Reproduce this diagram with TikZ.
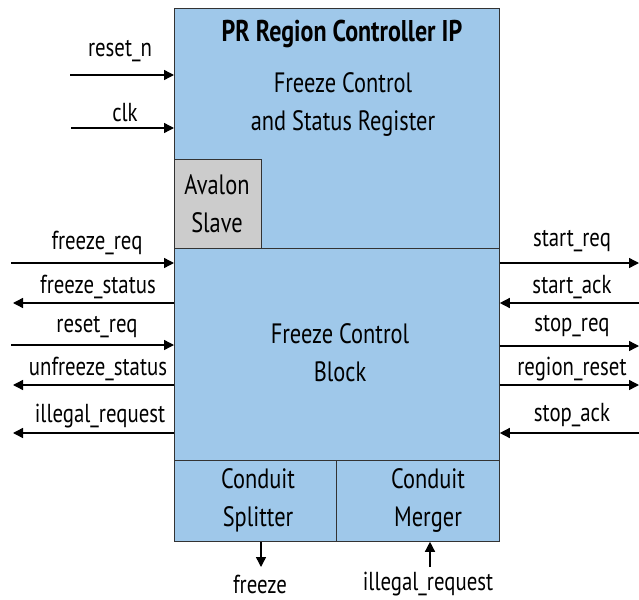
\documentclass[tikz,border=0pt]{standalone}
\usepackage{fontspec}
\setmainfont[FakeStretch=0.8]{PT Sans}
\usetikzlibrary{arrows.meta}
\definecolor{blk}{HTML}{9FC8EA}
\definecolor{avg}{HTML}{CCCCCC}
\definecolor{edge}{HTML}{333333}
\tikzset{
  x=1pt, y=-1pt,
  box/.style={draw=edge, line width=0.8pt, fill=blk, inner sep=0pt, anchor=north west},
  sig/.style={line width=1.4pt, -{Triangle[length=10pt,width=10pt]}},
  lbl/.style={font=\fontsize{26}{28}\selectfont, inner sep=0pt},
  big/.style={font=\fontsize{28}{38}\selectfont, align=center, inner sep=0pt},
}
\begin{document}
\begin{tikzpicture}
\useasboundingbox (0,0) rectangle (639,599);
% boxes
\node[box, minimum width=325pt, minimum height=533pt] (main) at (174,8) {};
\node[box, fill=avg, minimum width=87pt, minimum height=89pt] (aval) at (174,159) {};
\node[box, minimum width=325pt, minimum height=212pt] (fcb) at (174,248) {};
\node[box, minimum width=162pt, minimum height=81pt] (spl) at (174,460) {};
\node[box, minimum width=163pt, minimum height=81pt] (mer) at (336,460) {};
% texts
\node[big, font=\fontsize{30}{32}\selectfont\bfseries] (title) at (342,34) {PR Region Controller IP};
\node[big] (reg) at (343,105) {Freeze Control\\and Status Register};
\node[big] (avt) at (217,204) {Avalon\\Slave};
\node[big] (fct) at (340,353) {Freeze Control\\Block};
\node[big] (spt) at (258,500) {Conduit\\Splitter};
\node[big] (mrt) at (428,500) {Conduit\\Merger};
% left-side free ends
\coordinate (lrn) at (70,75);
\coordinate (lclk) at (71,128);
\coordinate (lfr) at (11,263);
\coordinate (lfs) at (13,303);
\coordinate (lrr) at (11,345);
\coordinate (lus) at (13,385);
\coordinate (lir) at (13,433);
% right-side free ends
\coordinate (rsr) at (639,263);
\coordinate (rsa) at (639,303);
\coordinate (rpr) at (639,346);
\coordinate (rrr) at (639,385);
\coordinate (rpa) at (639,433);
% bottom free ends
\coordinate (bfz) at (261,567);
\coordinate (bir) at (430,567);
% left arrows
\draw[sig] (lrn) -- (lrn -| main.west);
\draw[sig] (lclk) -- (lclk -| main.west);
\draw[sig] (lfr) -- (lfr -| main.west);
\draw[sig] (lfs -| main.west) -- (lfs);
\draw[sig] (lrr) -- (lrr -| main.west);
\draw[sig] (lus -| main.west) -- (lus);
\draw[sig] (lir -| main.west) -- (lir);
% right arrows
\draw[sig] (rsr -| main.east) -- (rsr);
\draw[sig] (rsa) -- (rsa -| main.east);
\draw[sig] (rpr -| main.east) -- (rpr);
\draw[sig] (rrr -| main.east) -- (rrr);
\draw[sig] (rpa) -- (rpa -| main.east);
% bottom arrows
\draw[sig] (bfz |- spl.south) -- (bfz);
\draw[sig] (bir) -- (bir |- mer.south);
% labels
\node[lbl] (t1) at (120,51) {reset\_n};
\node[lbl] (t2) at (125,113) {clk};
\node[lbl] (t3) at (97,243) {freeze\_req};
\node[lbl] (t4) at (98,287) {freeze\_status};
\node[lbl] (t5) at (97,327) {reset\_req};
\node[lbl] (t6) at (98,369) {unfreeze\_status};
\node[lbl] (t7) at (100,416) {illegal\_request};
\node[lbl] (t8) at (572,241) {start\_req};
\node[lbl] (t9) at (572,287) {start\_ack};
\node[lbl] (t10) at (572,326) {stop\_req};
\node[lbl] (t11) at (572,369) {region\_reset};
\node[lbl] (t12) at (572,415) {stop\_ack};
\node[lbl] (t13) at (260,584) {freeze};
\node[lbl] (t14) at (428,584) {illegal\_request};
\end{tikzpicture}
\end{document}
